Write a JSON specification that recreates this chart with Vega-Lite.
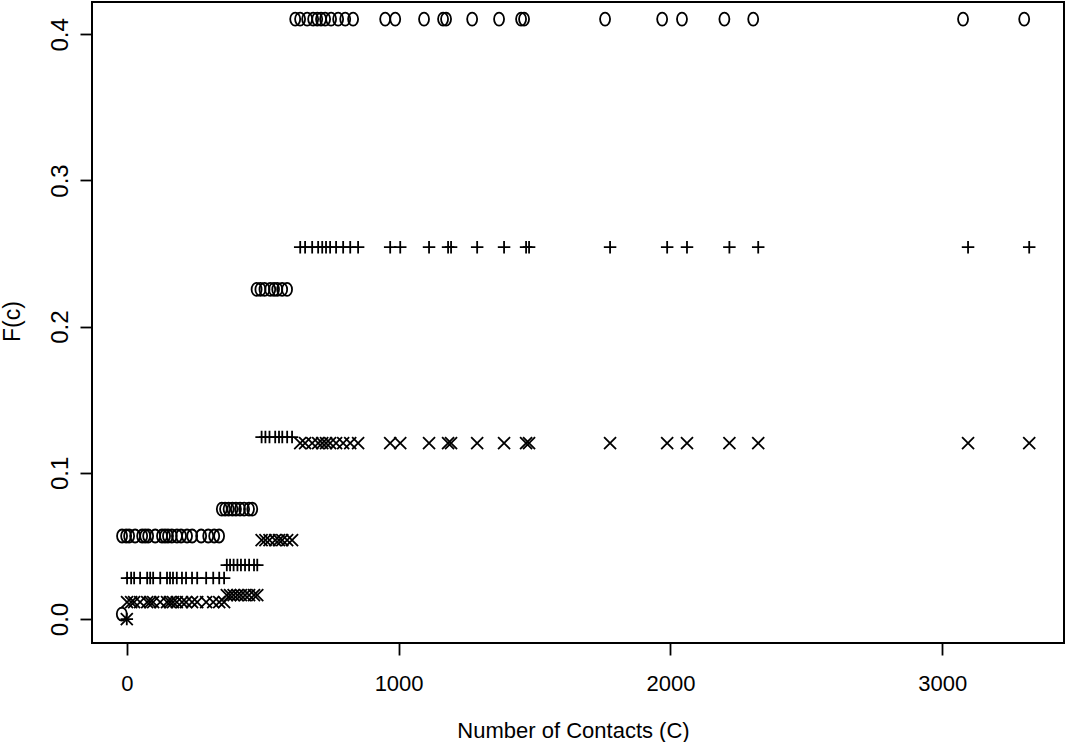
{
  "$schema": "https://vega.github.io/schema/vega-lite/v6.json",
  "width": 972,
  "height": 641,
  "autosize": {"type": "none"},
  "padding": {"left": 92, "top": 2, "right": 1, "bottom": 99},
  "background": "white",
  "config": {
    "view": {"stroke": "black", "strokeWidth": 2},
    "font": "Liberation Sans",
    "axis": {
      "domain": false,
      "grid": false,
      "tickColor": "black",
      "tickWidth": 1.8,
      "tickSize": 12,
      "labelColor": "black",
      "titleColor": "black",
      "labelFont": "Liberation Sans",
      "titleFont": "Liberation Sans",
      "titleFontWeight": "normal"
    }
  },
  "data": {
    "values": [
      {"c": 0, "o": 0.0034, "p": 0.0, "x": 0.0},
      {"c": 1, "o": 0.0568, "p": 0.028, "x": 0.0115},
      {"c": 16, "o": 0.0568, "p": 0.028, "x": 0.0115},
      {"c": 27, "o": 0.0568, "p": 0.028, "x": 0.0115},
      {"c": 49, "o": 0.0568, "p": 0.028, "x": 0.0115},
      {"c": 75, "o": 0.0568, "p": 0.028, "x": 0.0115},
      {"c": 86, "o": 0.0568, "p": 0.028, "x": 0.0115},
      {"c": 97, "o": 0.0568, "p": 0.028, "x": 0.0115},
      {"c": 123, "o": 0.0568, "p": 0.028, "x": 0.0115},
      {"c": 148, "o": 0.0568, "p": 0.028, "x": 0.0115},
      {"c": 159, "o": 0.0568, "p": 0.028, "x": 0.0115},
      {"c": 170, "o": 0.0568, "p": 0.028, "x": 0.0115},
      {"c": 184, "o": 0.0568, "p": 0.028, "x": 0.0115},
      {"c": 203, "o": 0.0568, "p": 0.028, "x": 0.0115},
      {"c": 218, "o": 0.0568, "p": 0.028, "x": 0.0115},
      {"c": 240, "o": 0.0568, "p": 0.028, "x": 0.0115},
      {"c": 259, "o": 0.0568, "p": 0.028, "x": 0.0115},
      {"c": 292, "o": 0.0568, "p": 0.028, "x": 0.0115},
      {"c": 318, "o": 0.0568, "p": 0.028, "x": 0.0115},
      {"c": 340, "o": 0.0568, "p": 0.028, "x": 0.0115},
      {"c": 358, "o": 0.0568, "p": 0.028, "x": 0.0115},
      {"c": 368, "o": 0.0752, "p": 0.0369, "x": 0.0164},
      {"c": 380, "o": 0.0752, "p": 0.0369, "x": 0.0164},
      {"c": 393, "o": 0.0752, "p": 0.0369, "x": 0.0164},
      {"c": 407, "o": 0.0752, "p": 0.0369, "x": 0.0164},
      {"c": 420, "o": 0.0752, "p": 0.0369, "x": 0.0164},
      {"c": 435, "o": 0.0752, "p": 0.0369, "x": 0.0164},
      {"c": 450, "o": 0.0752, "p": 0.0369, "x": 0.0164},
      {"c": 468, "o": 0.0752, "p": 0.0369, "x": 0.0164},
      {"c": 480, "o": 0.0752, "p": 0.0369, "x": 0.0164},
      {"c": 496, "o": 0.2255, "p": 0.1245, "x": 0.054},
      {"c": 510, "o": 0.2255, "p": 0.1245, "x": 0.054},
      {"c": 525, "o": 0.2255, "p": 0.1245, "x": 0.054},
      {"c": 546, "o": 0.2255, "p": 0.1245, "x": 0.054},
      {"c": 560, "o": 0.2255, "p": 0.1245, "x": 0.054},
      {"c": 572, "o": 0.2255, "p": 0.1245, "x": 0.054},
      {"c": 590, "o": 0.2255, "p": 0.1245, "x": 0.054},
      {"c": 608, "o": 0.2255, "p": 0.1245, "x": 0.054},
      {"c": 638, "o": 0.4104, "p": 0.2544, "x": 0.1203},
      {"c": 656, "o": 0.4104, "p": 0.2544, "x": 0.1203},
      {"c": 682, "o": 0.4104, "p": 0.2544, "x": 0.1203},
      {"c": 704, "o": 0.4104, "p": 0.2544, "x": 0.1203},
      {"c": 719, "o": 0.4104, "p": 0.2544, "x": 0.1203},
      {"c": 733, "o": 0.4104, "p": 0.2544, "x": 0.1203},
      {"c": 748, "o": 0.4104, "p": 0.2544, "x": 0.1203},
      {"c": 770, "o": 0.4104, "p": 0.2544, "x": 0.1203},
      {"c": 796, "o": 0.4104, "p": 0.2544, "x": 0.1203},
      {"c": 822, "o": 0.4104, "p": 0.2544, "x": 0.1203},
      {"c": 851, "o": 0.4104, "p": 0.2544, "x": 0.1203},
      {"c": 969, "o": 0.4104, "p": 0.2544, "x": 0.1203},
      {"c": 1006, "o": 0.4104, "p": 0.2544, "x": 0.1203},
      {"c": 1112, "o": 0.4104, "p": 0.2544, "x": 0.1203},
      {"c": 1182, "o": 0.4104, "p": 0.2544, "x": 0.1203},
      {"c": 1193, "o": 0.4104, "p": 0.2544, "x": 0.1203},
      {"c": 1289, "o": 0.4104, "p": 0.2544, "x": 0.1203},
      {"c": 1388, "o": 0.4104, "p": 0.2544, "x": 0.1203},
      {"c": 1469, "o": 0.4104, "p": 0.2544, "x": 0.1203},
      {"c": 1480, "o": 0.4104, "p": 0.2544, "x": 0.1203},
      {"c": 1778, "o": 0.4104, "p": 0.2544, "x": 0.1203},
      {"c": 1988, "o": 0.4104, "p": 0.2544, "x": 0.1203},
      {"c": 2061, "o": 0.4104, "p": 0.2544, "x": 0.1203},
      {"c": 2217, "o": 0.4104, "p": 0.2544, "x": 0.1203},
      {"c": 2323, "o": 0.4104, "p": 0.2544, "x": 0.1203},
      {"c": 3095, "o": 0.4104, "p": 0.2544, "x": 0.1203},
      {"c": 3320, "o": 0.4104, "p": 0.2544, "x": 0.1203}
    ]
  },
  "transform": [{"fold": ["o", "p", "x"], "as": ["s", "f"]}],
  "mark": {"type": "point", "filled": false, "color": "black", "opacity": 1, "strokeWidth": 1.8},
  "encoding": {
    "x": {
      "field": "c",
      "type": "quantitative",
      "scale": {"domain": [-128, 3448], "nice": false, "zero": false},
      "axis": {
        "values": [0, 1000, 2000, 3000],
        "format": "d",
        "labelFontSize": 22,
        "labelBaseline": "middle",
        "labelPadding": 28,
        "title": "Number of Contacts (C)",
        "titleFontSize": 22,
        "titleX": 481,
        "titleY": 87,
        "titleAlign": "center",
        "titleBaseline": "middle"
      }
    },
    "y": {
      "field": "f",
      "type": "quantitative",
      "scale": {"domain": [-0.0164, 0.4221], "nice": false, "zero": false},
      "axis": {
        "values": [0, 0.1, 0.2, 0.3, 0.4],
        "format": ".1f",
        "labelFontSize": 24,
        "labelAngle": -90,
        "labelAlign": "center",
        "labelBaseline": "middle",
        "labelPadding": 20,
        "title": "F(c)",
        "titleFontSize": 23,
        "titleAngle": -90,
        "titleX": -80,
        "titleY": 319,
        "titleAlign": "center",
        "titleBaseline": "middle"
      }
    },
    "shape": {
      "field": "s",
      "type": "nominal",
      "scale": {
        "domain": ["o", "p", "x"],
        "range": [
          "M-0.77,-1C-0.345,-1,0,-0.552,0,0C0,0.552,-0.345,1,-0.77,1C-1.195,1,-1.54,0.552,-1.54,0C-1.54,-0.552,-1.195,-1,-0.77,-1Z",
          "M-1,0L1,0M0,-1L0,1",
          "M-1,-1L1,1M-1,1L1,-1"
        ]
      },
      "legend": null
    },
    "size": {
      "field": "s",
      "type": "nominal",
      "scale": {"domain": ["o", "p", "x"], "range": [169, 144, 121]},
      "legend": null
    }
  }
}
